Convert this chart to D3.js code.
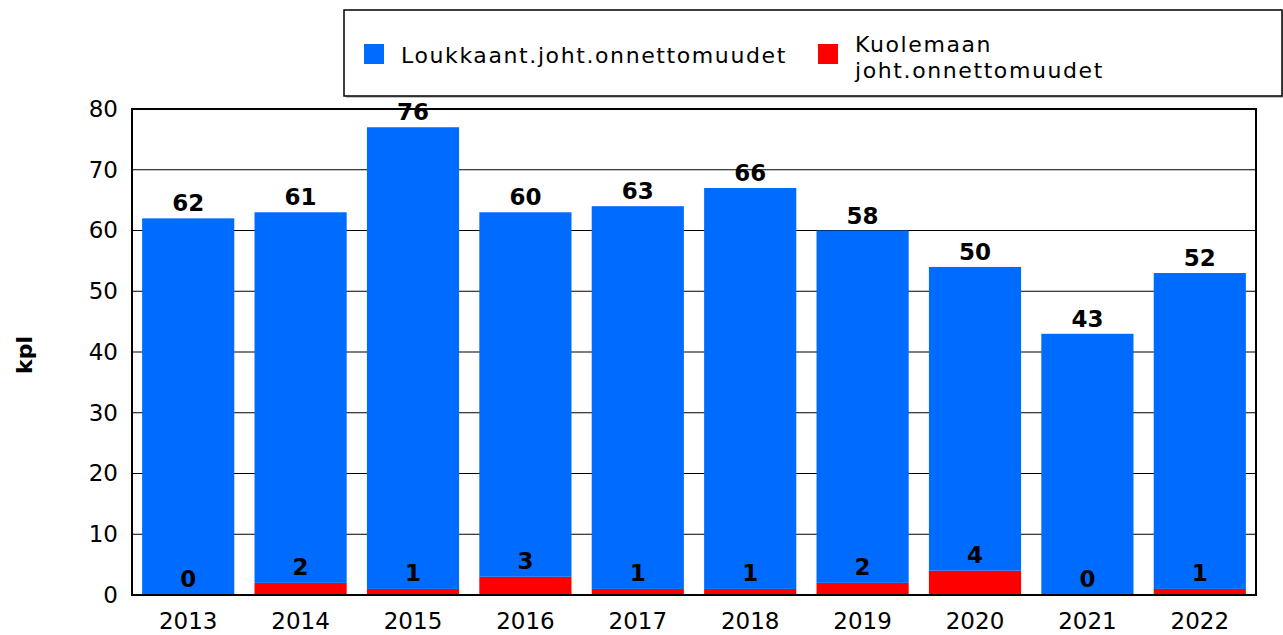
<!DOCTYPE html>
<html>
<head>
<meta charset="utf-8">
<script src="https://cdn.jsdelivr.net/npm/d3@7"></script>
<style>
  body { margin: 0; background: #fff; }
  text { font-family: "DejaVu Sans", Verdana, sans-serif; }
</style>
</head>
<body>
<svg id="chart"></svg>
<script>
// data
const years = ["2013", "2014", "2015", "2016", "2017", "2018", "2019", "2020", "2021", "2022"];
const injured = [62, 61, 76, 60, 63, 66, 58, 50, 43, 52];
const killed = [0, 2, 1, 3, 1, 1, 2, 4, 0, 1];
const yTicks = [0, 10, 20, 30, 40, 50, 60, 70, 80];
const seriesNames = ["Loukkaant.joht.onnettomuudet", ["Kuolemaan", "joht.onnettomuudet"]];
const colors = ["#006cff", "#ff0000"];

const W = 1283, H = 635;
const margin = {top: 109, right: 27, bottom: 40, left: 132};
const width = W - margin.left - margin.right;
const height = H - margin.top - margin.bottom;

const svg = d3.select("#chart").attr("width", W).attr("height", H);

// legend
const lg = svg.append("g");
lg.append("rect").attr("x", 346).attr("y", 12).attr("width", 937).attr("height", 86)
    .attr("fill", "#999").attr("opacity", 0.6);
lg.append("rect").attr("x", 344).attr("y", 10).attr("width", 938).attr("height", 86)
    .attr("fill", "#fff").attr("stroke", "#000").attr("stroke-width", 1.5);
lg.append("rect").attr("x", 364).attr("y", 44).attr("width", 20).attr("height", 20).attr("fill", colors[0]);
lg.append("text").attr("x", 401).attr("y", 63).attr("font-size", 22).attr("letter-spacing", 1.6)
    .text(seriesNames[0]);
lg.append("rect").attr("x", 818).attr("y", 44).attr("width", 20).attr("height", 20).attr("fill", colors[1]);
lg.append("text").attr("x", 855).attr("y", 52).attr("font-size", 22).attr("letter-spacing", 1.6)
    .text(seriesNames[1][0]);
lg.append("text").attr("x", 855).attr("y", 78).attr("font-size", 22).attr("letter-spacing", 1.6)
    .text(seriesNames[1][1]);

const g = svg.append("g").attr("transform", "translate(" + margin.left + "," + margin.top + ")");

const x = d3.scaleBand().domain(years).range([0, width]).paddingInner(0.18).paddingOuter(0.09);
const y = d3.scaleLinear().domain([0, 80]).range([height, 0]);

// gridlines
g.selectAll("line.grid").data(yTicks).enter().append("line")
    .attr("x1", 0).attr("x2", width)
    .attr("y1", d => y(d)).attr("y2", d => y(d))
    .attr("stroke", "#000").attr("stroke-width", 1.2);

// stacked bars
const rows = years.map((yr, i) => ({year: yr, injured: injured[i], killed: killed[i]}));
const stack = d3.stack().keys(["killed", "injured"])(rows);
const colorFor = {killed: colors[1], injured: colors[0]};

stack.forEach(layer => {
    g.selectAll(null).data(layer).enter().append("rect")
        .attr("x", d => x(d.data.year))
        .attr("width", x.bandwidth())
        .attr("y", d => y(d[1]))
        .attr("height", d => y(d[0]) - y(d[1]))
        .attr("fill", colorFor[layer.key]);
});

// plot border
g.append("rect").attr("x", 0).attr("y", 0).attr("width", width).attr("height", height)
    .attr("fill", "none").attr("stroke", "#000").attr("stroke-width", 2);

// value labels
g.selectAll(null).data(rows).enter().append("text")
    .attr("x", d => x(d.year) + x.bandwidth() / 2)
    .attr("y", d => y(d.injured + d.killed) - 7)
    .attr("text-anchor", "middle").attr("font-size", 23).attr("font-weight", "bold")
    .text(d => d.injured);
g.selectAll(null).data(rows).enter().append("text")
    .attr("x", d => x(d.year) + x.bandwidth() / 2)
    .attr("y", d => y(d.killed) - 8)
    .attr("text-anchor", "middle").attr("font-size", 23).attr("font-weight", "bold")
    .text(d => d.killed);

// axes
const yAxis = d3.axisLeft(y).tickValues(yTicks).tickSize(0).tickPadding(14);
g.append("g").call(yAxis)
    .call(s => s.select(".domain").remove())
    .selectAll("text").attr("font-size", 23).attr("font-family", "DejaVu Sans").attr("fill", "#000");

const xAxis = d3.axisBottom(x).tickSize(0).tickPadding(18);
g.append("g").attr("transform", "translate(0," + height + ")").call(xAxis)
    .call(s => s.select(".domain").remove())
    .selectAll("text").attr("font-size", 23).attr("font-family", "DejaVu Sans").attr("fill", "#000");

svg.append("text").attr("transform", "translate(32," + 355 + ") rotate(-90)")
    .attr("text-anchor", "middle").attr("font-size", 22).attr("font-weight", "bold").text("kpl");
</script>
</body>
</html>
